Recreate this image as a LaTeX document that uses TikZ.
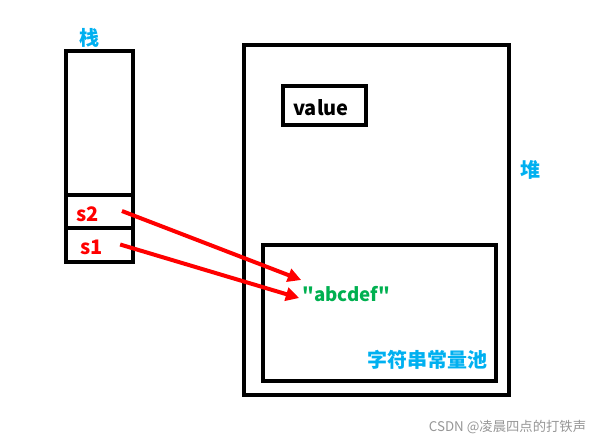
\documentclass[tikz,border=0pt]{standalone}
\usepackage{fontspec}
\setmainfont{Noto Sans CJK SC}
\newfontfamily\plainfont{Noto Sans CJK SC}
\usepackage{xcolor}
\usetikzlibrary{arrows.meta,calc}
\definecolor{areablue}{RGB}{0,176,240}
\definecolor{strgreen}{RGB}{0,176,80}
\definecolor{markgray}{RGB}{150,150,150}
\tikzset{
  box/.style={line width=3pt},
  areatext/.style={text=areablue, inner sep=0pt, font=\fontsize{15}{17}\selectfont\bfseries},
  vartext/.style={text=red, inner sep=0pt, font=\fontsize{15}{17}\selectfont\bfseries},
  reftext/.style={inner sep=0pt, font=\plainfont\fontsize{15}{17}\selectfont\bfseries},
  ref/.style={draw=red, line width=3pt, -{Triangle[length=10pt,width=10pt]}}
}

\begin{document}
\begin{tikzpicture}[x=0.75pt,y=0.75pt,yscale=-1,xscale=1]
\useasboundingbox (0,0) rectangle (599,444);

% stack
\draw[box] (65.5,51) rectangle (133,261.7);
\draw[box] (65.5,195.3) -- (133,195.3);
\draw[box] (65.5,227.7) -- (133,227.7);
% heap
\draw[box] (244,44.7) rectangle (508.5,395.3);
\draw[box] (282.5,86.2) rectangle (365.8,125);
\draw[box] (262.8,244.7) rectangle (495.5,380.5);

\draw (89,38) node (stack) [areatext] {栈};
\draw (530.5,170) node (heap) [areatext] {堆};
\draw (427,360) node (pool) [areatext] {字符串常量池};
\draw (321,108) node (value) [reftext] {value};
\draw (87.5,214) node (s2) [vartext] {s2};
\draw (91.7,247.5) node (s1) [vartext] {s1};
\draw (346.5,294) node (abc) [reftext, text=strgreen, font=\plainfont\fontsize{14}{16}\selectfont\bfseries] {"abcdef"};
\draw (507.5,427.5) node (mark) [text=markgray, inner sep=0pt, font=\fontsize{10}{12}\selectfont] {CSDN @凌晨四点的打铁声};

\draw[ref] ($(s2.east)+(23,-3)$) -- ($(abc.west)+(-1,-14)$);
\draw[ref] ($(s1.east)+(17,-3)$) -- ($(abc.west)+(-3,4)$);

\end{tikzpicture}
\end{document}
